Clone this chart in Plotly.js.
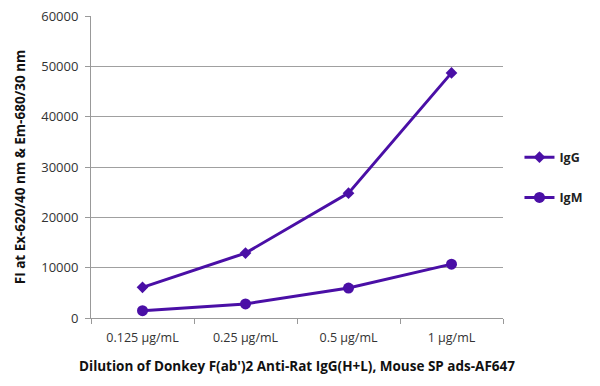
<!DOCTYPE html>
<html>
<head>
<meta charset="utf-8">
<script src="https://cdn.plot.ly/plotly-3.0.1.min.js"></script>
<style>html,body{margin:0;padding:0;background:#fff;}#chart{width:600px;height:386px;}</style>
</head>
<body>
<div id="chart"></div>
<script>
const categories = ["0.125 µg/mL", "0.25 µg/mL", "0.5 µg/mL", "1 µg/mL"];
const igg = [6100, 12900, 24800, 48700];
const igm = [1450, 2800, 5950, 10700];
const yTicks = [0, 10000, 20000, 30000, 40000, 50000, 60000];

const color = '#4a0fa6';
const traces = [
  {x: categories, y: igg, name: 'IgG', legendgroup: 'a', type: 'scatter', mode: 'lines+markers',
   line: {color: color, width: 3}, marker: {symbol: 'diamond', size: 9, color: color}},
  {x: categories, y: igm, name: 'IgM', legendgroup: 'b', type: 'scatter', mode: 'lines+markers',
   line: {color: color, width: 3}, marker: {symbol: 'circle', size: 11, color: color}}
];
const layout = {
  width: 600, height: 386,
  margin: {l: 91, r: 93, t: 16, b: 68},
  paper_bgcolor: '#fff', plot_bgcolor: '#fff',
  font: {family: 'Open Sans, sans-serif', color: '#333', size: 12},
  showlegend: true,
  legend: {x: 1.04, y: 0.465, xanchor: 'left', yanchor: 'middle',
           traceorder: 'grouped', tracegroupgap: 21,
           font: {family: 'Open Sans, sans-serif', size: 12.5, color: '#222', weight: 'bold'},
           bgcolor: 'rgba(0,0,0,0)'},
  xaxis: {type: 'category', range: [-0.5, 3.5], showgrid: false, zeroline: false,
          showline: true, linecolor: '#999', linewidth: 1,
          ticks: 'outside', ticklen: 5, tickcolor: '#999', tickson: 'boundaries',
          ticklabelstandoff: 8,
          tickfont: {size: 12.5, color: '#333'},
          title: {text: "Dilution of Donkey F(ab')2 Anti-Rat IgG(H+L), Mouse SP ads-AF647",
                  font: {size: 13.5, color: '#111', weight: 'bold'}, standoff: 16}},
  yaxis: {range: [0, 60000], tickvals: yTicks, ticktext: yTicks.map(String),
          showgrid: true, gridcolor: '#a0a0a0', gridwidth: 1, zeroline: false,
          showline: true, linecolor: '#999', linewidth: 1,
          ticks: 'outside', ticklen: 5, tickcolor: '#999',
          ticklabelstandoff: 4,
          tickfont: {size: 13, color: '#333'},
          title: {text: 'FI at Ex-620/40 nm & Em-680/30 nm',
                  font: {size: 13.5, color: '#111', weight: 'bold'}, standoff: 12}}
};
Plotly.newPlot('chart', traces, layout, {displayModeBar: false, staticPlot: true});
</script>
</body>
</html>
